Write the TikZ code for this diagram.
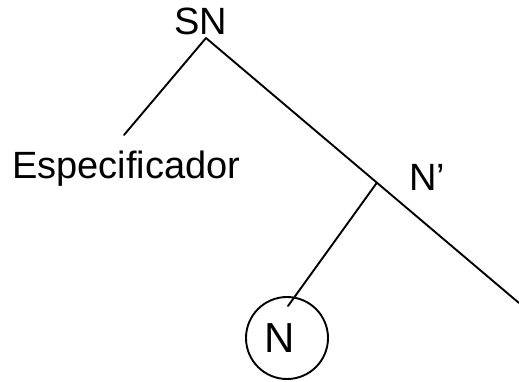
\documentclass[tikz,border=0pt]{standalone}
\usepackage{fontspec}
\setmainfont{Liberation Sans}
\usetikzlibrary{calc}
\begin{document}
\begin{tikzpicture}[x=1pt,y=-1pt,
  lbl/.style={inner sep=0pt,font=\fontsize{38}{40}\selectfont},
  edge/.style={line width=1.9pt,line cap=round},
  ringnode/.style={draw,circle,line width=1.9pt,inner sep=0pt,minimum size=82pt,font=\fontsize{42}{46}\selectfont}]
\useasboundingbox (0,0) rectangle (519,381);
\node[lbl,anchor=base] (SN) at (200.5,34) {SN};
\node[lbl,anchor=base west] (esp) at (12,178) {Especificador};
\node[lbl,anchor=base west] (nbar) at (409,190) {N’};
\node[ringnode] (N) at (287,338) {\hspace*{-15pt}N};
\coordinate (apex) at ($(SN.base)+(5.5,4)$);
\coordinate (espTop) at (124,135);
\coordinate (rEnd) at (519,303);
\coordinate (branch) at ($(apex)!0.546!(rEnd)$);
\coordinate (nTop) at (288,306);
\draw[edge] (apex) -- (espTop);
\draw[edge] (apex) -- (rEnd);
\draw[edge] (branch) -- (nTop);
\end{tikzpicture}
\end{document}
